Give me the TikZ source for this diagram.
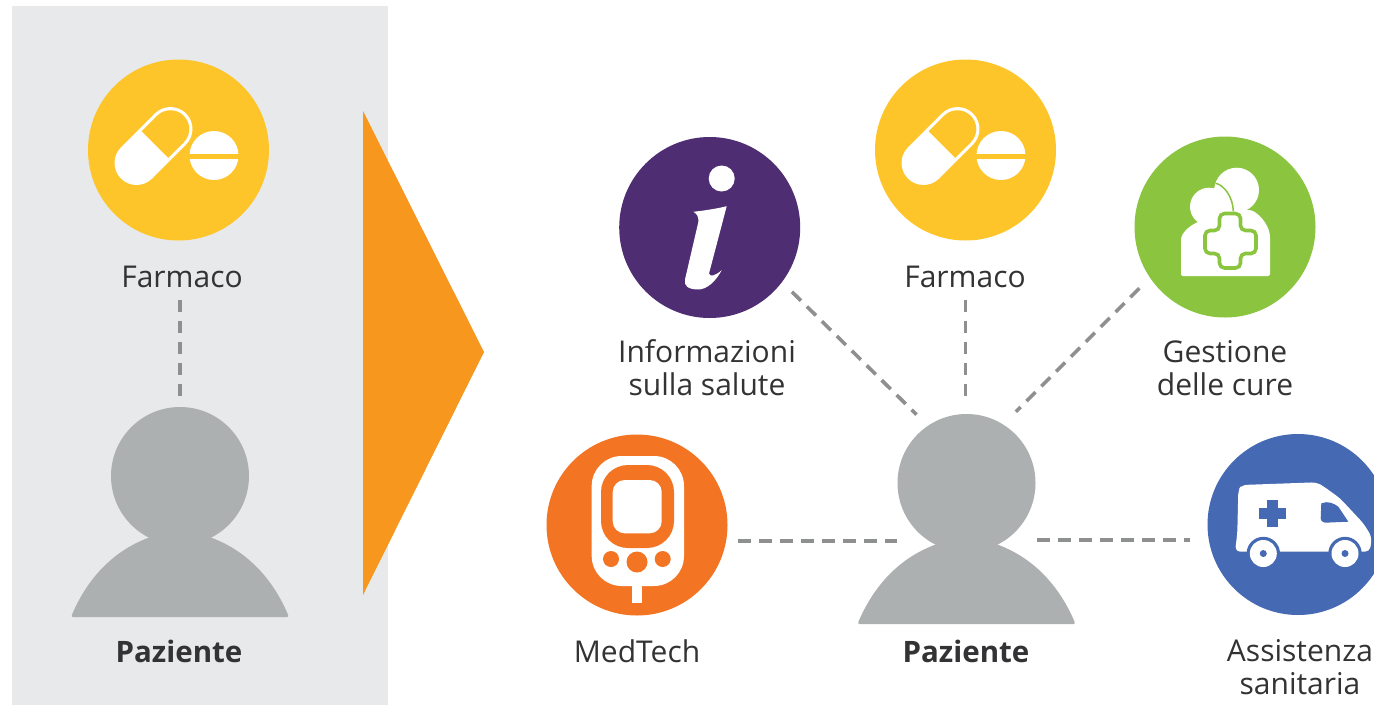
\documentclass[tikz,border=0pt]{standalone}
\usepackage{fontspec}
\setmainfont{Open Sans}
\definecolor{panelgray}{HTML}{E7E9EB}
\definecolor{persongray}{HTML}{ADB0B0}
\definecolor{dashgray}{HTML}{8E9090}
\definecolor{inkgray}{HTML}{333335}
\definecolor{arroworange}{HTML}{F8971D}
\definecolor{pillyellow}{HTML}{FEC52A}
\definecolor{infopurple}{HTML}{4F2D73}
\definecolor{caregreen}{HTML}{8BC43F}
\definecolor{techorange}{HTML}{F37423}
\definecolor{ambublue}{HTML}{4569B2}
\tikzset{
  iconcircle/.style={circle,fill=#1,minimum size=181pt,inner sep=0pt,outer sep=0pt},
  headdot/.style={circle,fill=persongray,minimum size=138pt,inner sep=0pt,outer sep=0pt},
  caption/.style={text=inkgray,align=center,font=\fontsize{30}{33}\selectfont},
  boldcaption/.style={text=inkgray,align=center,font=\fontsize{29.5}{33}\selectfont\bfseries},
  link/.style={draw=dashgray,line width=3.6pt,dash pattern=on 12.7pt off 8.3pt},
  personbody/.pic={
    \fill[persongray,rounded corners=2pt] (-109,141) .. controls (-90,96) and (-56,62) .. (0,54)
      .. controls (56,62) and (90,96) .. (109,141) -- cycle;
    \fill[persongray] (-24,40) rectangle (24,70);
  },
  pillicon/.pic={
    \begin{scope}[shift={(-25,-4)},rotate=45]
      \fill[white] (-24,0) circle (22);
      \fill[white] (24,0) circle (22);
      \fill[white] (-24,-22) rectangle (24,22);
      \fill[pillyellow] (2,-18.8) rectangle (24,18.8);
      \fill[pillyellow] (24,0) circle (18.8);
    \end{scope}
    \fill[white] (35.5,5.5) circle (24.5);
    \fill[pillyellow] (8,3.5) rectangle (63,8.5);
  },
  infoicon/.pic={
    \fill[white] (12,-49) circle (13);
    \fill[white] (-16.3,-15.7) .. controls (-5,-17) and (8,-19) .. (17,-21.3) -- (-.7,46)
      .. controls (0,50) and (6,48) .. (12,42.7) .. controls (6,54) and (-3,62) .. (-11.3,62)
      .. controls (-22,62) and (-26,58) .. (-24.7,52) -- (-11.3,-5.7) .. controls (-11,-11) and (-13,-14) .. cycle;
  },
  careicon/.pic={
    \fill[white,rounded corners=2pt] (-44,49) -- (-44,15) .. controls (-44,6) and (-36,0) .. (-30,-3.7)
      -- (0,-17) -- (26,-17) .. controls (36,-12) and (45,0) .. (45,12) -- (45,49) -- cycle;
    \fill[white] (11.7,-37) circle (22.3);
    \fill[white] (-16,-20.3) circle (19);
    \fill[white] (-9.3,-43.7) .. controls (-1,-42) and (8,-30) .. (8.3,-15.7) -- (-16,-20.3) -- cycle;
    \draw[caregreen,line width=1.5pt] (-9.3,-43.7) .. controls (-1,-42) and (8,-30) .. (8.3,-15.7);
    \draw[caregreen,fill=white,line width=3.6pt,rounded corners=5pt] (-5.5,-13.5) -- (15.5,-13.5) -- (15.5,3.5) -- (31,3.5)
      -- (31,26.5) -- (15.5,26.5) -- (15.5,41) -- (-5.5,41) -- (-5.5,26.5) -- (-20,26.5) -- (-20,3.5) -- (-5.5,3.5) -- cycle;
  },
  techicon/.pic={
    \fill[white] (-5.3,55) rectangle (5.3,78);
    \fill[white,rounded corners=30pt] (-45.3,-69) rectangle (47,61);
    \fill[techorange,rounded corners=27pt] (-36,-60) rectangle (37,23);
    \fill[white,rounded corners=12pt] (-24.3,-45) rectangle (24.7,8.3);
    \fill[techorange] (-26,34) circle (8);
    \fill[techorange] (0,37) circle (10.5);
    \fill[techorange] (25.7,34) circle (8);
  },
  ambuicon/.pic={
    \fill[white,rounded corners=5pt] (-56.3,-39.5) -- (18.7,-42.2) -- (26,-37.8) -- (42,-26.2) -- (65.3,-1.2)
      -- (73.7,12.2) -- (72,27.2) -- (-63,27.2) -- (-60.7,8.8) -- (-59.7,-34.5) -- cycle;
    \foreach \wheelx in {-34.7,47} {
      \fill[ambublue] (\wheelx,29) circle (16.7);
      \fill[white] (\wheelx,29) circle (13.5);
      \fill[ambublue] (\wheelx,29) circle (3.5);
    }
    \fill[ambublue] (23.3,-21.2) .. controls (30,-24) and (36,-21) .. (40.3,-17.8) -- (50.3,-2.8) -- (27,-1.8)
      .. controls (23,-3) and (22.7,-5) .. (22.7,-6.2) -- cycle;
    \fill[ambublue] (-31,-25) rectangle (-20.4,2.6);
    \fill[ambublue] (-39.5,-16.5) rectangle (-11.9,-5.9);
  }
}
\begin{document}
\begin{tikzpicture}[x=1pt,y=-1pt]
\clip (0,0) rectangle (1374,705);
\fill[white] (0,0) rectangle (1374,705);
\fill[panelgray] (12,6) rectangle (388,705);
\fill[arroworange] (363,111) -- (484,352) -- (363,595) -- cycle;

\node[iconcircle=pillyellow] (pillL) at (178.5,150) {};
\pic at (pillL) {pillicon};
\node[caption] (farmacoL) at (182,277) {Farmaco};
\node[headdot] (headL) at (180,476) {};
\pic at (headL) {personbody};
\node[boldcaption] (pazienteL) at (179,651) {Paziente};

\node[iconcircle=infopurple] (info) at (709.7,227.5) {};
\pic at (info) {infoicon};
\node[caption] (infoT) at (707,368) {Informazioni\\sulla salute};
\node[iconcircle=pillyellow] (pillR) at (965.5,150) {};
\pic at (pillR) {pillicon};
\node[caption] (farmacoR) at (965,277) {Farmaco};
\node[iconcircle=caregreen] (care) at (1225,227) {};
\pic at (care) {careicon};
\node[caption] (careT) at (1225,368) {Gestione\\delle cure};
\node[iconcircle=techorange] (tech) at (637,525) {};
\pic at (tech) {techicon};
\node[caption] (techT) at (637,651) {MedTech};
\node[headdot] (headR) at (966.5,483) {};
\pic at (headR) {personbody};
\node[boldcaption] (pazienteR) at (966,651) {Paziente};
\node[iconcircle=ambublue] (ambu) at (1298,524.5) {};
\pic at (ambu) {ambuicon};
\node[caption] (ambuT) at (1300,667) {Assistenza\\sanitaria};

\draw[link,shorten <=59pt,shorten >=7pt] (headL.north |- pillL.south) -- (headL.north);
\draw[link,shorten <=14pt,shorten >=16pt] (info.-37) -- (headR.124);
\draw[link,shorten <=59pt,shorten >=14pt] (pillR.south) -- (pillR.south |- headR.north);
\draw[link,shorten <=15pt,shorten >=18pt] (care.214) -- (headR.58.5);
\draw[link,shorten <=10.5pt,shorten >=32pt] (tech.east |- headR.-123.7) -- (headR.-123.7);
\draw[link,shorten <=32pt,shorten >=17.5pt] (headR.-56.3) -- (ambu.west |- headR.-56.3);
\end{tikzpicture}
\end{document}
